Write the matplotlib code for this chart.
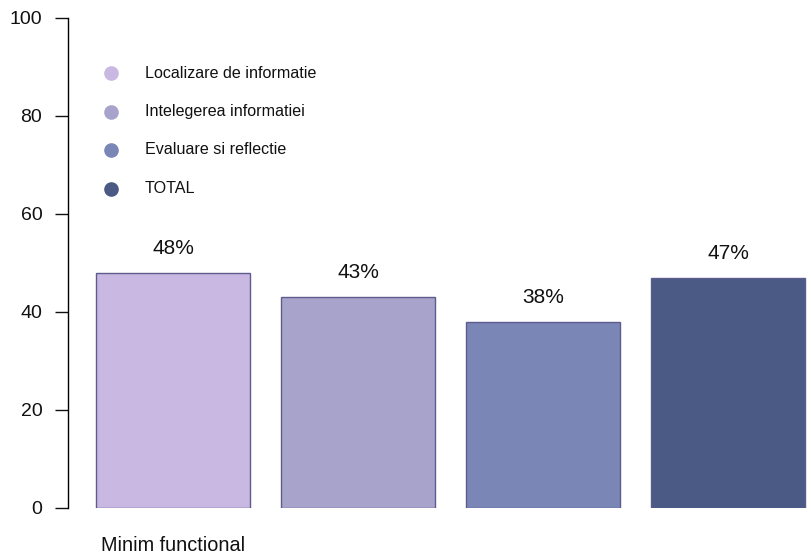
import matplotlib
matplotlib.use("Agg")
import matplotlib.pyplot as plt

categories = ["Localizare de informatie", "Intelegerea informatiei", "Evaluare si reflectie", "TOTAL"]
values = [48, 43, 38, 47]
value_labels = ["48%", "43%", "38%", "47%"]
group_label = "Minim functional"
colors = ["#C8B8E2", "#A8A3CB", "#7A86B6", "#4A5A85"]
yticks = [0, 20, 40, 60, 80, 100]

plt.rcParams['font.family'] = ['Liberation Sans', 'DejaVu Sans']

W, H = 811, 557
fig = plt.figure(figsize=(W / 100, H / 100), dpi=100)
# axes in pixel coords: left spine at x=68, y=0 at 508, y=100 at 18
ax = fig.add_axes([68 / W, (H - 508) / H, (W - 68) / W, 490 / H])

unit = 185.0 / 1.2
x0 = 96.0 - 0.2 * unit
ax.set_xlim((68 - x0) / unit, (W - x0) / unit)
ax.set_ylim(0, 100)

width = 1.0
space = 0.2
centers = [space * (i + 1) + width * i + width / 2 for i in range(len(values))]
ax.bar(centers, values, width=width, color=colors, edgecolor="#5E5C8E", linewidth=1.0)

for c, v, lab in zip(centers, values, value_labels):
    ax.annotate(lab, (c, v), xytext=(0, 17.5), textcoords="offset points",
                ha="center", va="center", fontsize=15, color="#111111")

ax.annotate(group_label, (centers[0], 0), xytext=(0, -27), textcoords="offset points",
            ha="center", va="center", fontsize=14.3, color="#111111", annotation_clip=False)

for s in ["top", "right", "bottom"]:
    ax.spines[s].set_visible(False)
ax.spines["left"].set_bounds(0, 100)
ax.spines["left"].set_linewidth(1.0)
ax.set_xticks([])
ax.set_yticks(yticks)
ax.set_yticklabels([str(t) for t in yticks], fontsize=14)
ax.tick_params(axis="y", length=9.5, width=1.0, pad=9, colors="#111111")

# legend (manual)
leg_y0 = 73
leg_dy = 38.5
for i, (lab, col) in enumerate(zip(categories, colors)):
    ypx = leg_y0 + i * leg_dy
    fy = (H - ypx) / H
    fig.add_artist(plt.Line2D([111 / W], [fy], marker="o", markersize=9.5,
                              color=col, linestyle="none", transform=fig.transFigure))
    fig.text(145 / W, fy, lab, fontsize=11.6, va="center", ha="left", color="#111111")

fig.savefig("out.png", dpi=100)
